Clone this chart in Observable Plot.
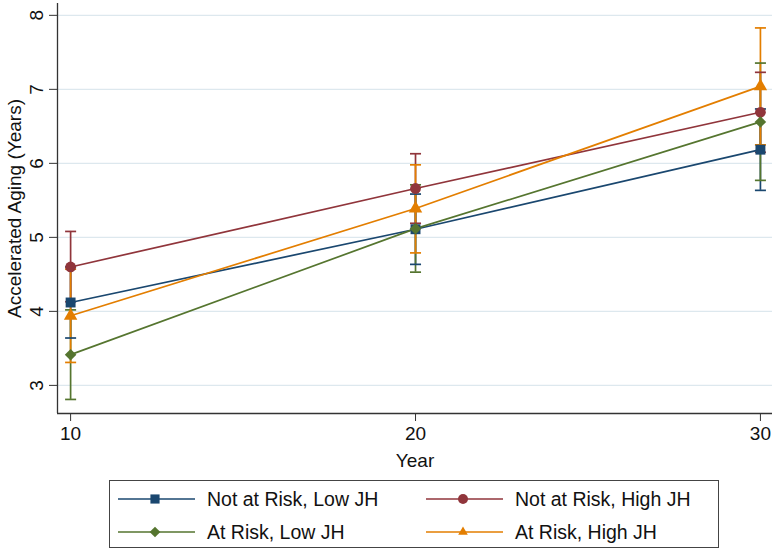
<!DOCTYPE html>
<html><head><meta charset="utf-8">
<script src="https://cdn.jsdelivr.net/npm/d3@7"></script>
<script src="https://cdn.jsdelivr.net/npm/@observablehq/plot@0.6"></script>
<style>
body{margin:0;background:#fff;font-family:"Liberation Sans",Arial,sans-serif;width:776px;height:550px;overflow:hidden;position:relative}
#legend{position:absolute;left:109px;top:480px;width:610px;height:68px;border:1px solid #444;box-sizing:border-box;background:#fff}
.item{position:absolute;display:flex;align-items:center;font-size:19.5px;color:#111;white-space:nowrap;height:20px;line-height:20px}
.item svg{margin-right:10px;flex:none}
</style></head><body><div id="chart"></div><div id="legend"></div>
<script>
const years = [10, 20, 30];
const seriesNames = ["Not at Risk, Low JH", "Not at Risk, High JH", "At Risk, Low JH", "At Risk, High JH"];
const xTicks = [10, 20, 30];
const yTicks = [3, 4, 5, 6, 7, 8];

// point estimates
const notRiskLowJH  = [4.12, 5.11, 6.185];
const notRiskHighJH = [4.60, 5.66, 6.69];
const atRiskLowJH   = [3.415, 5.118, 6.56];
const atRiskHighJH  = [3.94, 5.39, 7.04];
// lower CI
const notRiskLowJHLo  = [3.64, 4.635, 5.635];
const notRiskHighJHLo = [4.13, 5.19, 6.15];
const atRiskLowJHLo   = [2.81, 4.53, 5.77];
const atRiskHighJHLo  = [3.31, 4.79, 6.25];
// upper CI
const notRiskLowJHHi  = [4.60, 5.585, 6.735];
const notRiskHighJHHi = [5.08, 6.13, 7.23];
const atRiskLowJHHi   = [4.02, 5.71, 7.355];
const atRiskHighJHHi  = [4.57, 5.98, 7.83];

const seriesColors  = ["#1a476f", "#90353b", "#55752f", "#e37e00"];
const seriesSymbols = ["square", "circle", "diamond2", "triangle"];
const seriesR       = [5.6, 5.4, 5.2, 5.0];

const means = [notRiskLowJH, notRiskHighJH, atRiskLowJH, atRiskHighJH];
const los = [notRiskLowJHLo, notRiskHighJHLo, atRiskLowJHLo, atRiskHighJHLo];
const his = [notRiskLowJHHi, notRiskHighJHHi, atRiskLowJHHi, atRiskHighJHHi];

const rows = [];
seriesNames.forEach((s, i) => years.forEach((yr, j) =>
  rows.push({series: s, year: yr, mean: means[i][j], lo: los[i][j], hi: his[i][j]})));

const xDom = [9.62, 30.35];
const yDom = [2.62, 8.16];
const capHalf = 0.16;
const fs = 19;

const plot = Plot.plot({
  width: 776, height: 478,
  marginLeft: 57, marginRight: 4, marginTop: 3, marginBottom: 65,
  style: {fontFamily: "'Liberation Sans', Arial, sans-serif", fontSize: fs + "px", color: "#111", background: "transparent", overflow: "visible"},
  x: {domain: xDom},
  y: {domain: yDom},
  color: {domain: seriesNames, range: seriesColors},
  symbol: {domain: seriesNames, range: seriesSymbols},
  marks: [
    Plot.gridY(yTicks, {stroke: "#dde8ee", strokeOpacity: 1, strokeWidth: 1.3}),
    Plot.ruleX(rows, {x: "year", y1: "lo", y2: "hi", stroke: "series", strokeWidth: 1.7}),
    Plot.link(rows, {x1: d => d.year - capHalf, x2: d => d.year + capHalf, y1: "lo", y2: "lo", stroke: "series", strokeWidth: 1.7}),
    Plot.link(rows, {x1: d => d.year - capHalf, x2: d => d.year + capHalf, y1: "hi", y2: "hi", stroke: "series", strokeWidth: 1.7}),
    Plot.line(rows, {x: "year", y: "mean", stroke: "series", z: "series", strokeWidth: 1.7}),
    ...seriesNames.map((s, i) => Plot.dot(rows.filter(d => d.series === s),
      {x: "year", y: "mean", fill: "series", symbol: "series", r: seriesR[i], stroke: "none"})),
    Plot.ruleX([xDom[0]], {stroke: "#333", strokeWidth: 1.3}),
    Plot.ruleY([yDom[0]], {stroke: "#333", strokeWidth: 1.3}),
    Plot.axisX(xTicks, {tickSize: 8, tickPadding: 5, stroke: "#333", fontSize: fs, label: "Year", labelAnchor: "center", labelArrow: "none", labelOffset: 53, tickFormat: d => String(d)}),
    Plot.axisY(yTicks, {tickSize: 8, tickPadding: 7, tickRotate: -90, stroke: "#333", fontSize: fs, label: "Accelerated Aging (Years)", labelAnchor: "center", labelArrow: "none", labelOffset: 50, tickFormat: d => String(d)})
  ]
});
document.getElementById("chart").appendChild(plot);

// legend
const legend = document.getElementById("legend");
const legendPos = [[7, 8], [315, 8], [7, 41], [315, 41]];
seriesNames.forEach((s, i) => {
  const item = document.createElement("div");
  item.className = "item";
  item.style.left = legendPos[i][0] + "px";
  item.style.top = legendPos[i][1] + "px";
  const ns = "http://www.w3.org/2000/svg";
  const svg = document.createElementNS(ns, "svg");
  svg.setAttribute("width", 80); svg.setAttribute("height", 20);
  const ln = document.createElementNS(ns, "line");
  ln.setAttribute("x1", 1); ln.setAttribute("x2", 78); ln.setAttribute("y1", 10); ln.setAttribute("y2", 10);
  ln.setAttribute("stroke", seriesColors[i]); ln.setAttribute("stroke-width", 1.7);
  svg.appendChild(ln);
  const symMap = {square: d3.symbolSquare, circle: d3.symbolCircle, diamond2: d3.symbolDiamond2, triangle: d3.symbolTriangle2};
  const p = document.createElementNS(ns, "path");
  p.setAttribute("d", d3.symbol(symMap[seriesSymbols[i]], Math.PI * seriesR[i] * seriesR[i] * 0.85)());
  p.setAttribute("transform", "translate(38,10)");
  p.setAttribute("fill", seriesColors[i]);
  svg.appendChild(p);
  item.appendChild(svg);
  const t = document.createElement("span");
  t.textContent = s;
  item.appendChild(t);
  legend.appendChild(item);
});
</script></body></html>
